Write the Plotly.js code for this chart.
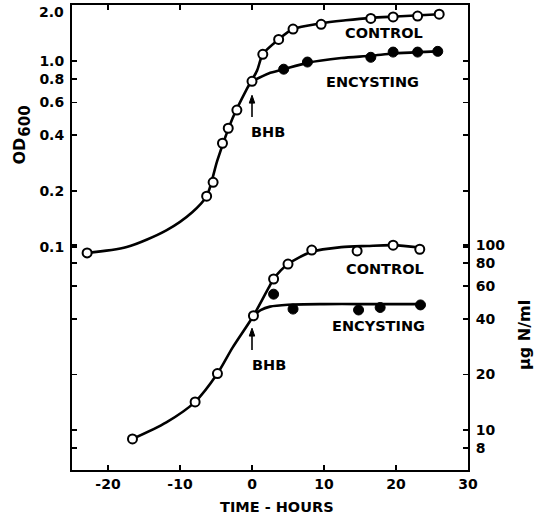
<!DOCTYPE html>
<html>
<head>
<meta charset="utf-8">
<script src="https://cdn.plot.ly/plotly-3.0.1.min.js"></script>
<style>html,body{margin:0;padding:0;background:#fff;}#chart{width:534px;height:517px;}</style>
</head>
<body>
<div id="chart"></div>
<script>
// ---- data ----
// Optical density (left axis) - measured points
const timeOdControl = [-22.9, -6.3, -5.4, -4.1, -3.3, -2.1, 0, 1.5, 3.7, 5.7, 9.6, 16.5, 19.6, 23, 26];
const odControl = [0.093, 0.188, 0.223, 0.362, 0.436, 0.546, 0.78, 1.09, 1.31, 1.49, 1.58, 1.70, 1.73, 1.75, 1.79];
const timeOdEncyst = [4.4, 7.7, 16.5, 19.6, 23, 25.8];
const odEncyst = [0.906, 0.99, 1.05, 1.12, 1.12, 1.13];
// Optical density - drawn curves
const timeOdControlCurve = [-22.9, -17.4, -11.9, -8.3, -6.3, -4.8, -2.7, -0.8, 0.7, 1.5, 3.7, 5.7, 9.6, 13, 16.5, 20, 26];
const odControlCurve = [0.093, 0.1, 0.123, 0.154, 0.188, 0.294, 0.494, 0.70, 0.89, 1.09, 1.31, 1.49, 1.60, 1.66, 1.71, 1.74, 1.79];
const timeOdEncystCurve = [0, 2.3, 4.4, 7.7, 12.4, 16.5, 19.6, 23, 25.8];
const odEncystCurve = [0.78, 0.86, 0.905, 0.98, 1.04, 1.07, 1.10, 1.12, 1.13];

// Nitrogen (right axis, ug N/ml) - measured points
const timeNControl = [-16.6, -7.9, -4.8, 0.2, 3.0, 5.0, 8.3, 14.6, 19.6, 23.3];
const nControl = [8.95, 14.2, 20.2, 41.5, 65.6, 79, 94, 93, 100, 95];
const timeNEncyst = [3.0, 5.7, 14.8, 17.8, 23.4];
const nEncyst = [54.3, 45.1, 44.6, 46, 47.5];
// Nitrogen - drawn curves
const timeNControlCurve = [-16.6, -11.9, -7.9, -4.8, -2.7, 0.2, 2.3, 3.0, 5.0, 8.3, 12.4, 16, 19.6, 23.3];
const nControlCurve = [8.95, 11.0, 14.2, 20.2, 27.9, 41.5, 58.7, 65.6, 79, 92, 97.5, 99, 100, 97];
const timeNEncystCurve = [0.2, 1.2, 2.5, 5, 10, 15, 20, 23.4];
const nEncystCurve = [41.5, 44.5, 46.5, 47.6, 48, 48, 48, 48];

// BHB addition time
const bhbTime = 0;

// tick labels
const xTicks = [-20, -10, 0, 10, 20, 30];
const xTickText = ['-20', '-10', '0', '10', '20', '30'];
const odTicks = [0.1, 0.2, 0.4, 0.6, 0.8, 1.0, 2.0];
const odTickText = ['0.1', '0.2', '0.4', '0.6', '0.8', '1.0', '2.0'];
const nTicks = [8, 10, 20, 40, 60, 80, 100];
const nTickText = ['8', '10', '20', '40', '60', '80', '100'];

// ---- chart ----
const FONT = 'DejaVu Sans';
const lineStyle = {color: '#000', width: 2.6, shape: 'spline', smoothing: 0.8};
const openMarker = {symbol: 'circle', size: 9, color: '#fff', line: {color: '#000', width: 2}};
const filledMarker = {symbol: 'circle', size: 10, color: '#000', line: {color: '#000', width: 1}};

const traces = [
  {x: timeOdControlCurve, y: odControlCurve, mode: 'lines', line: lineStyle, yaxis: 'y', hoverinfo: 'skip'},
  {x: timeOdEncystCurve, y: odEncystCurve, mode: 'lines', line: lineStyle, yaxis: 'y', hoverinfo: 'skip'},
  {x: timeNControlCurve, y: nControlCurve, mode: 'lines', line: lineStyle, yaxis: 'y2', hoverinfo: 'skip'},
  {x: timeNEncystCurve, y: nEncystCurve, mode: 'lines', line: lineStyle, yaxis: 'y2', hoverinfo: 'skip'},
  {x: timeOdControl, y: odControl, mode: 'markers', marker: openMarker, yaxis: 'y', cliponaxis: false},
  {x: timeOdEncyst, y: odEncyst, mode: 'markers', marker: filledMarker, yaxis: 'y', cliponaxis: false},
  {x: timeNControl, y: nControl, mode: 'markers', marker: openMarker, yaxis: 'y2', cliponaxis: false},
  {x: timeNEncyst, y: nEncyst, mode: 'markers', marker: filledMarker, yaxis: 'y2', cliponaxis: false}
];

const tickFont = {family: FONT, size: 14, color: '#000', weight: 'bold'};
const labFont = {family: FONT, size: 14.5, color: '#000', weight: 'bold'};
const odFont = {family: FONT, size: 16, color: '#000', weight: 'bold'};
const subFont = {family: FONT, size: 15, color: '#000', weight: 'bold'};

const axisCommon = {
  showgrid: false, zeroline: false, showline: true, linecolor: '#000', linewidth: 2,
  mirror: 'ticks', ticks: 'inside', ticklen: 5, tickwidth: 1.6, tickcolor: '#000',
  tickfont: tickFont
};

function label(x, y, text, font, angle, xanchor) {
  return {xref: 'paper', yref: 'paper', x: x, y: y, text: text, showarrow: false,
          font: font || labFont, xanchor: xanchor || 'center', yanchor: 'middle', textangle: angle || 0};
}

function arrowShapes(yTail, yHead) {
  return [
    {type: 'line', xref: 'x', yref: 'paper', x0: bhbTime, x1: bhbTime, y0: yTail, y1: yHead - 0.01,
     line: {color: '#000', width: 1.6}},
    {type: 'path', xref: 'x', yref: 'paper', fillcolor: '#000', line: {color: '#000', width: 1},
     path: 'M ' + (bhbTime - 0.38) + ',' + (yHead - 0.017) + ' L ' + (bhbTime + 0.38) + ',' + (yHead - 0.017) +
           ' L ' + bhbTime + ',' + yHead + ' Z'}
  ];
}

// the top OD label (2.0) sits just below the frame corner in the original, so it is drawn as an annotation
const nOd = odTicks.length;

const layout = {
  width: 534, height: 517,
  margin: {l: 72, r: 66, t: 5, b: 47, pad: 0},
  paper_bgcolor: '#fff', plot_bgcolor: '#fff',
  showlegend: false,
  xaxis: Object.assign({}, axisCommon, {
    range: [-25, 30], tickmode: 'array', tickvals: xTicks, ticktext: xTickText, ticklabelstandoff: 0
  }),
  yaxis: Object.assign({}, axisCommon, {
    type: 'log', range: [-2.199, 0.3025], tickmode: 'array',
    tickvals: odTicks.slice(0, nOd - 1), ticktext: odTickText.slice(0, nOd - 1), ticklabelstandoff: 3
  }),
  yaxis2: Object.assign({}, axisCommon, {
    type: 'log', range: [0.784, 3.2985], overlaying: 'y', side: 'right',
    tickmode: 'array', tickvals: nTicks, ticktext: nTickText, ticklabelstandoff: 3
  }),
  shapes: [].concat(arrowShapes(0.759, 0.806), arrowShapes(0.258, 0.305)),
  annotations: [
    label(-0.016, 0.984, odTickText[nOd - 1], tickFont, 0, 'right'),
    label(0.518, -0.079, 'TIME - HOURS'),
    label(-0.135, 0.686, 'OD', odFont, -90),
    label(-0.119, 0.751, '600', subFont, -90),
    label(1.141, 0.29, 'µg N/ml', odFont, -90),
    label(0.788, 0.94, 'CONTROL'),
    label(0.760, 0.834, 'ENCYSTING'),
    label(0.790, 0.432, 'CONTROL'),
    label(0.773, 0.310, 'ENCYSTING'),
    label(0.495, 0.727, 'BHB'),
    label(0.497, 0.226, 'BHB')
  ]
};

Plotly.newPlot('chart', traces, layout, {displayModeBar: false, staticPlot: true});
</script>
</body>
</html>
